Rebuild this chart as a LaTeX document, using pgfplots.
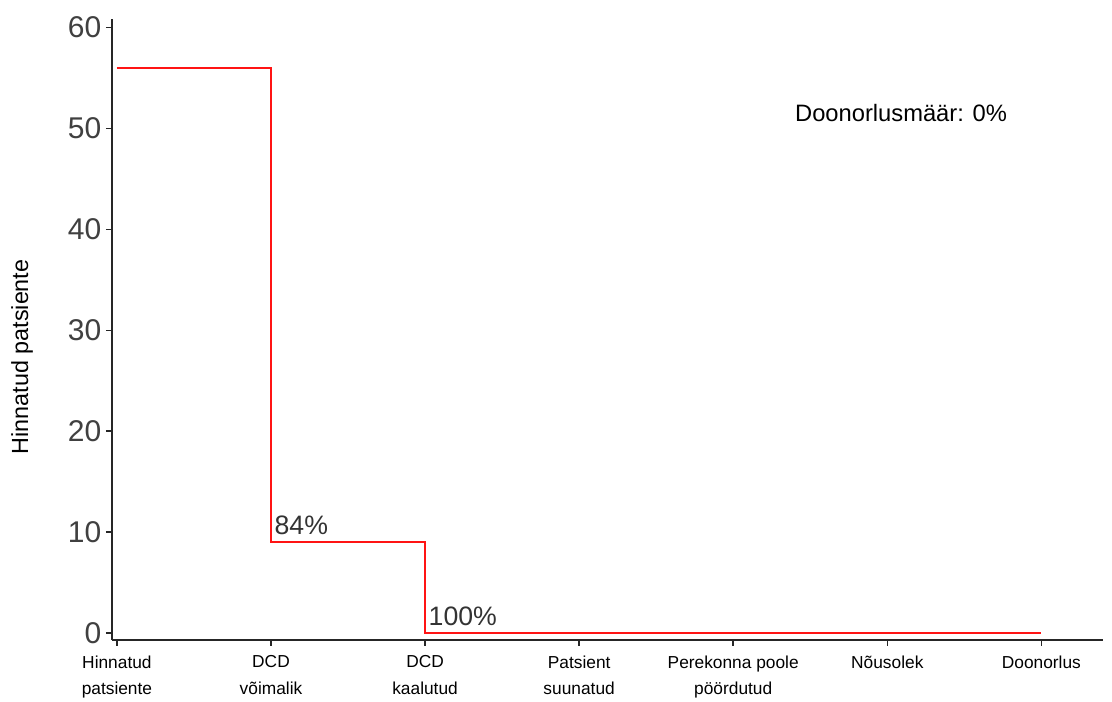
\documentclass[border=0pt]{standalone}
\usepackage{fontspec}
\setmainfont{Liberation Sans}
\usepackage{pgfplots}
\pgfplotsset{compat=1.18}
\definecolor{stepred}{RGB}{255,20,20}

\begin{document}
\begin{tikzpicture}
\begin{axis}[
  name=ax,
  scale only axis,
  width=743.25pt, height=465.75pt,
  xmin=-0.032, xmax=6.4,
  ymin=-0.7, ymax=60.85,
  axis lines=left,
  axis line style={-, line width=1.2pt, color=black!85},
  tick align=outside,
  major tick length=4.5pt,
  tick style={line width=1.1pt, color=black!85},
  xtick={0,...,6},
  xticklabels={Hinnatud\\patsiente, DCD\\võimalik, DCD\\kaalutud, Patsient\\suunatud, Perekonna poole\\pöördutud, Nõusolek, Doonorlus},
  xticklabel style={align=center, font=\fontsize{13}{20}\selectfont, anchor=north, yshift=-3.75pt},
  ytick={0,10,...,60},
  yticklabel style={font=\fontsize{22.5}{24}\selectfont, text=black!75},
  /pgf/number format/assume math mode=true,
  ylabel={Hinnatud patsiente},
  every axis y label/.style={at={(axis description cs:-0.0908,0.456)}, rotate=90, anchor=center, font=\fontsize{17.5}{20}\selectfont},
  clip=false,
]
% step curve of the patient pathway
\addplot[const plot, draw=stepred, line width=1.25pt] coordinates {(0,56) (1,9) (2,0) (3,0) (4,0) (5,0) (6,0)};
\node[anchor=south west, inner sep=0pt, xshift=2.5pt, yshift=5pt, font=\fontsize{20}{22}\selectfont, text=black!80] at (axis cs:1,9) {84\%};
\node[anchor=south west, inner sep=0pt, xshift=2.5pt, yshift=5pt, font=\fontsize{20}{22}\selectfont, text=black!80] at (axis cs:2,0) {100\%};
\node[anchor=west, inner sep=0pt, font=\fontsize{17.8}{20}\selectfont] at (axis cs:4.40,51.5) {Doonorlusmäär: 0\%};
\end{axis}
\pgfresetboundingbox
\path (ax.south west) ++(-84pt,-46.5pt) rectangle ++(834pt,526.5pt);
\end{tikzpicture}
\end{document}
